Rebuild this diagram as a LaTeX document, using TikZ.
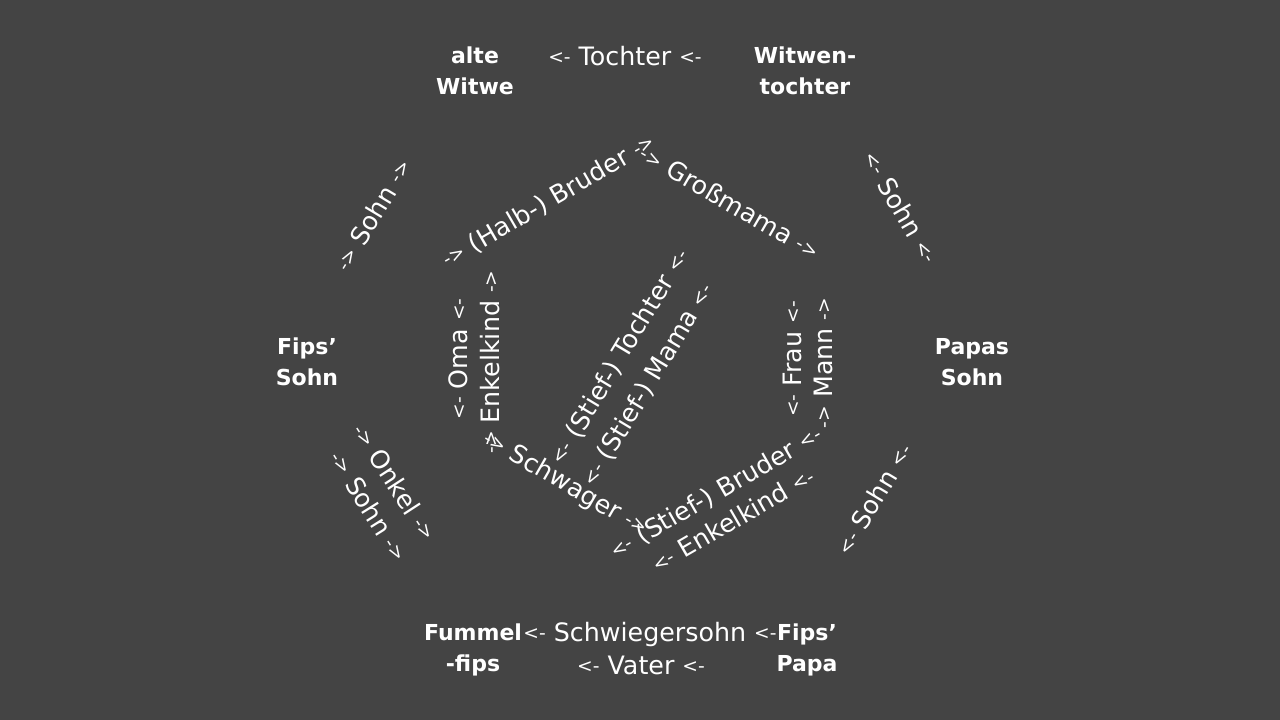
\documentclass[tikz,border=0pt]{standalone}
\usepackage{fontspec}
\setmainfont{DejaVu Sans}
\definecolor{bg}{HTML}{444444}
\newcommand\arL{\raisebox{1.5pt}{\fontsize{14}{14}\selectfont<-}}
\newcommand\arR{\raisebox{1.5pt}{\fontsize{14}{14}\selectfont->}}
\begin{document}
\begin{tikzpicture}[x=0.75pt,y=-0.75pt,
  person/.style={text=white,font=\fontsize{16.5}{23.25}\selectfont\bfseries,align=center,inner sep=0pt},
  rel/.style={text=white,font=\fontsize{19}{22}\selectfont,inner sep=0pt}]
\fill[bg] (0,0) rectangle (1280,720);
\useasboundingbox (0,0) rectangle (1280,720);
% persons
\node[person] (witwe) at (475,71) {alte\\Witwe};
\node[person] (wtochter) at (805,71) {Witwen-\\tochter};
\node[person] (papassohn) at (972,362) {Papas\\Sohn};
\node[person] (fipspapa) at (807,650) {Fips’\\Papa};
\node[person] (fummel) at (473,650) {Fummel\\-fips};
\node[person] (fipssohn) at (307,362) {Fips’\\Sohn};
% outer relations
\node[rel] (tochter) at (625,56) {\arL{} Tochter \arL};
\node[rel] (schwsohn) at (650,635) {\arL{} Schwiegersohn \arL};
\node[rel] (vater) at (641,665) {\arL{} Vater \arL};
\node[rel,rotate=59] (sohnA) at (373,215) {\arR{} Sohn \arR};
\node[rel,rotate=-57] (onkel) at (395,482) {\arR{} Onkel \arR};
\node[rel,rotate=-58] (sohnB) at (369,506) {\arR{} Sohn \arR};
\node[rel,rotate=-60] (sohnC) at (901,207) {\arL{} Sohn \arL};
\node[rel,rotate=59] (sohnD) at (874,499) {\arL{} Sohn \arL};
% inner hexagon
\node[rel,rotate=30] (halb) at (549,201) {\arR{} (Halb-) Bruder \arR};
\node[rel,rotate=-30] (gross) at (730,202) {\arR{} Großmama \arR};
\node[rel,rotate=90] (oma) at (458,359) {\arL{} Oma \arL};
\node[rel,rotate=90] (enkelA) at (490,362) {\arR{} Enkelkind \arR};
\node[rel,rotate=90] (frau) at (792,359) {\arL{} Frau \arL};
\node[rel,rotate=90] (mann) at (823,363) {\arR{} Mann \arR};
\node[rel,rotate=59] (stochter) at (620,357) {\arL{} (Stief-) Tochter \arL};
\node[rel,rotate=59] (smama) at (648,385) {\arL{} (Stief-) Mama \arL};
\node[rel,rotate=-30] (schwager) at (565,484) {\arR{} Schwager \arR};
\node[rel,rotate=30] (sbruder) at (716,493) {\arL{} (Stief-) Bruder \arL};
\node[rel,rotate=30] (enkelB) at (733,520) {\arL{} Enkelkind \arL};
\end{tikzpicture}
\end{document}
